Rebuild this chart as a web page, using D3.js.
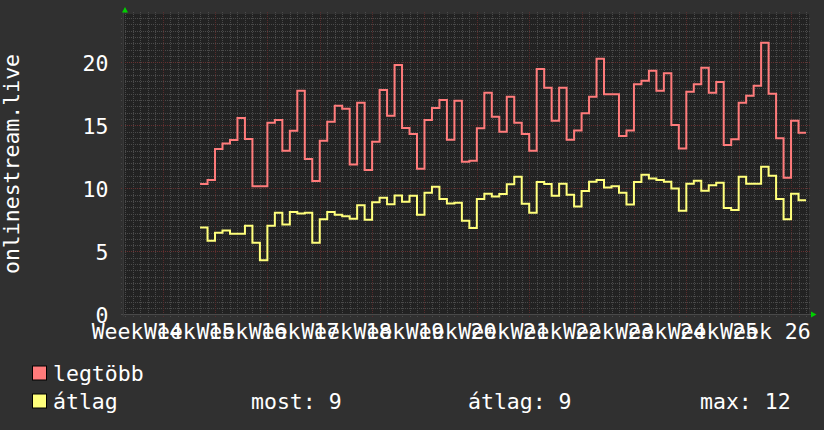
<!DOCTYPE html>
<html><head><meta charset="utf-8">
<script src="https://cdn.jsdelivr.net/npm/d3@7"></script>
<style>html,body{margin:0;padding:0;background:#303030;}svg{display:block}</style>
</head><body><svg id="c" width="824" height="430"></svg>
<script>
// day index 0 = Monday of Week 14; first sample covers day 12
const firstDay = 12;
const maxValues = [10.34,10.66,13.12,13.57,13.83,15.58,13.91,10.18,10.18,15.21,15.42,12.99,14.57,17.75,12.33,10.58,13.78,15.29,16.56,16.32,11.90,16.79,11.45,13.70,17.80,15.76,19.79,14.79,14.31,11.56,15.42,16.37,17.01,13.86,16.95,12.11,12.19,14.76,17.59,15.68,14.49,17.27,15.21,14.31,12.99,19.47,17.98,15.37,17.98,13.86,14.60,15.95,17.27,20.29,17.46,17.46,14.15,14.60,18.25,18.54,19.33,17.75,19.13,15.02,13.17,17.67,18.25,19.57,17.59,18.44,13.44,13.89,16.79,17.35,18.14,21.56,17.51,13.97,10.84,15.37,14.41];
const avgValues = [6.90,5.84,6.48,6.66,6.40,6.40,7.03,5.68,4.31,7.03,8.07,7.14,8.12,8.01,8.07,5.68,7.56,8.12,7.91,7.80,7.59,8.67,7.51,8.91,9.25,8.75,9.44,8.94,9.41,7.91,9.65,10.13,9.15,8.81,8.86,7.43,6.85,9.15,9.57,9.36,9.55,10.32,10.92,8.78,8.07,10.50,10.34,9.41,10.37,9.49,8.57,9.79,10.52,10.66,10.08,10.18,9.65,8.73,10.50,11.08,10.79,10.66,10.52,10.00,8.22,10.37,10.60,9.81,10.24,10.44,8.44,8.28,10.92,10.37,10.37,11.71,11.00,9.15,7.56,9.57,9.07];
const weekLabels = ["Week 14","Week 15","Week 16","Week 17","Week 18","Week 19","Week 20","Week 21","Week 22","Week 23","Week 24","Week 25","Week 26"];
const yTicks = [0,5,10,15,20];
const seriesNames = ["legtöbb","átlag"];
const seriesColors = ["#ff7b7b","#ffff7b"];
const statLabels = ["most: 9","átlag: 9","max: 12"];
const axisTitle = "onlinestream.live";

const svg = d3.select("#c");
const L=123, R=809, T=14, B=314.5;
const FONT = "'DejaVu Sans Mono', monospace";
const FS = 21.5;

svg.append("rect").attr("width",824).attr("height",430).attr("fill","#303030");
svg.append("rect").attr("x",L).attr("y",T).attr("width",R-L).attr("height",B-T).attr("fill","#222222");

const x = d3.scaleLinear().domain([1.7, 93.4]).range([L, R]);
const y = d3.scaleLinear().domain([0, 23.83]).range([B, T]);

const g = svg.append("g").attr("shape-rendering","crispEdges");
const hMinor = d3.range(0.5, 23.8, 0.5).filter(v => v % 5 !== 0);
g.selectAll(".hm").data(hMinor).enter().append("line")
  .attr("x1",L-2).attr("x2",R+2).attr("y1",d=>Math.round(y(d))+0.5).attr("y2",d=>Math.round(y(d))+0.5)
  .attr("stroke","#4a4a4a").attr("stroke-width",1).attr("stroke-dasharray","1,1");
const vMinor = d3.range(2, 94).filter(t => t % 7 !== 0);
g.selectAll(".vm").data(vMinor).enter().append("line")
  .attr("y1",T-2).attr("y2",B+2).attr("x1",d=>Math.round(x(d))+0.5).attr("x2",d=>Math.round(x(d))+0.5)
  .attr("stroke","#4a4a4a").attr("stroke-width",1).attr("stroke-dasharray","1,1");
g.selectAll(".hM").data(yTicks.slice(1)).enter().append("line")
  .attr("x1",L-2).attr("x2",R+2).attr("y1",d=>Math.round(y(d))+0.5).attr("y2",d=>Math.round(y(d))+0.5)
  .attr("stroke","#663030").attr("stroke-width",1).attr("stroke-dasharray","1,1");
const vMajor = d3.range(7, 94, 7);
g.selectAll(".vM").data(vMajor).enter().append("line")
  .attr("y1",T-2).attr("y2",B+3).attr("x1",d=>Math.round(x(d))+0.5).attr("x2",d=>Math.round(x(d))+0.5)
  .attr("stroke","#582c2c").attr("stroke-width",1).attr("stroke-dasharray","1,1");

svg.append("line").attr("x1",L-2).attr("x2",R+2).attr("y1",B).attr("y2",B).attr("stroke","#4a4a4a");
svg.append("line").attr("x1",L+0.5).attr("x2",L+0.5).attr("y1",T-2).attr("y2",B+2).attr("stroke","#3a3a3a");
svg.append("path").attr("d",`M${L-1},${T-1.5} L${L+5},${T-1.5} L${L+2},${T-7} Z`).attr("fill","#00d000");
svg.append("path").attr("d",`M${R+2},${B-3} L${R+2},${B+3} L${R+7.5},${B} Z`).attr("fill","#00d000");

const line = d3.line().x(d=>x(d[0])).y(d=>y(d[1])).curve(d3.curveStepAfter);
[maxValues, avgValues].forEach((vals,i)=>{
  const pts = vals.map((v,k)=>[firstDay+k, v]);
  pts.push([firstDay+vals.length, vals[vals.length-1]]);
  svg.append("path").attr("d", line(pts)).attr("fill","none")
    .attr("stroke", seriesColors[i]).attr("stroke-width",2).attr("stroke-linejoin","miter");
});

const yAxis = d3.axisLeft(y).tickValues(yTicks).tickSize(0).tickPadding(0).tickFormat(d3.format("d"));
const ya = svg.append("g").attr("transform",`translate(${108.5},0)`).call(yAxis);
ya.select(".domain").remove();
ya.selectAll("text").attr("fill","#ffffff").attr("font-family",FONT).attr("font-size",FS).attr("dy","0.36em");

const weekCenters = weekLabels.map((w,i)=>3.5+7*i);
const xAxis = d3.axisBottom(x).tickValues(weekCenters).tickSize(0).tickPadding(0).tickFormat((d,i)=>weekLabels[i]);
const xa = svg.append("g").attr("transform",`translate(0,${338.5})`).call(xAxis);
xa.select(".domain").remove();
xa.selectAll("text").attr("fill","#ffffff").attr("font-family",FONT).attr("font-size",FS).attr("dy",0).attr("y",0);

svg.append("text").attr("transform","translate(18.5,164) rotate(-90)").attr("text-anchor","middle")
  .attr("fill","#ffffff").attr("font-family",FONT).attr("font-size",FS).text(axisTitle);

const legY = [381, 409];
seriesNames.forEach((n,i)=>{
  svg.append("rect").attr("x",32.5).attr("y",legY[i]-15).attr("width",14).attr("height",14)
    .attr("fill",seriesColors[i]).attr("stroke","#000").attr("stroke-width",1);
  svg.append("text").attr("x",53).attr("y",legY[i]).attr("fill","#ffffff")
    .attr("font-family",FONT).attr("font-size",FS).text(n);
});
const statX = [251, 468, 700];
statLabels.forEach((s,i)=>{
  svg.append("text").attr("x",statX[i]).attr("y",legY[1]).attr("fill","#ffffff")
    .attr("font-family",FONT).attr("font-size",FS).text(s);
});
</script></body></html>
